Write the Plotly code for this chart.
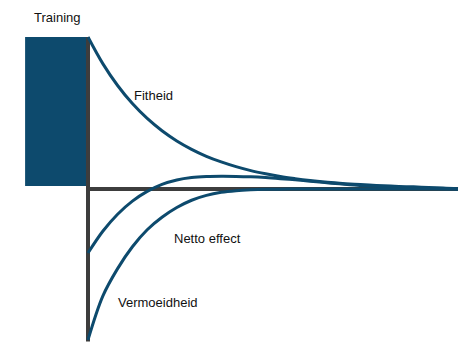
import plotly.graph_objects as go

# time axis (days after training) and relative levels (baseline = 0)
t = list(range(0, 101, 4))
fitheid = [100, 82.5, 68.1, 56.2, 46.4, 38.3, 31.6, 26.1, 21.5, 17.8, 14.7, 12.1, 10.0,
           8.2, 6.8, 5.6, 4.6, 3.8, 3.1, 2.6, 2.1, 1.7, 1.4, 1.0, 0.6, 0]
netto = [-42.1, -27.8, -16.6, -8.0, -1.6, 3.0, 5.9, 7.5, 8.2, 8.4, 8.3, 8.0, 7.5,
         6.8, 6.0, 5.1, 4.2, 3.4, 2.6, 2.0, 1.5, 1.1, 0.7, 0.4, 0.2, 0]
vermoeidheid = [-99.3, -70.5, -52.4, -38.0, -26.8, -18.6, -12.2, -7.4, -4.2, -2.2, -1.1,
                -0.5, -0.2, -0.1, 0, 0, 0, 0, 0, 0, 0, 0, 0, 0, 0, 0]

training_start, training_end = -17, 0
training_level = 100
training_base = 2

labels = {
    "Training": (-8.4, 113),
    "Fitheid": (17.8, 61.5),
    "Netto effect": (32.2, -32.5),
    "Vermoeidheid": (18.9, -74.8),
}

curve_color = "#0d4a6d"
axis_color = "#3d3d3d"

fig = go.Figure()

for ys in (fitheid, netto, vermoeidheid):
    fig.add_trace(go.Scatter(
        x=t, y=ys, mode="lines",
        line=dict(color=curve_color, width=3, shape="spline", smoothing=1.0),
        hoverinfo="skip", showlegend=False,
    ))

shapes = [
    dict(type="rect", xref="x", yref="y", x0=training_start, x1=training_end,
         y0=training_base, y1=training_level, fillcolor=curve_color, line=dict(width=0),
         layer="below"),
    dict(type="line", xref="x", yref="y", x0=-0.5, x1=t[-1], y0=0, y1=0,
         line=dict(color=axis_color, width=4), layer="below"),
    dict(type="line", xref="x", yref="y", x0=0, x1=0, y0=min(vermoeidheid) - 1, y1=training_level,
         line=dict(color=axis_color, width=4), layer="below"),
]

annotations = [
    dict(x=x, y=y, xref="x", yref="y", text=txt, showarrow=False,
         font=dict(family="Liberation Sans, Arial, sans-serif", size=13, color="#111111"))
    for txt, (x, y) in labels.items()
]

# page body adds ~8px offset; origin of chart sits at screen (88, 189)
ox, oy = 80, 181
px_per_t = 3.7
px_per_y = 1.52
W, H = 474, 356
fig.update_layout(
    width=W, height=H,
    margin=dict(l=0, r=0, t=0, b=0),
    paper_bgcolor="white", plot_bgcolor="white",
    shapes=shapes, annotations=annotations,
    xaxis=dict(range=[-ox / px_per_t, (W - ox) / px_per_t], visible=False, fixedrange=True),
    yaxis=dict(range=[(oy - H) / px_per_y, oy / px_per_y], visible=False, fixedrange=True),
    showlegend=False,
)

fig.write_html("out.html")
